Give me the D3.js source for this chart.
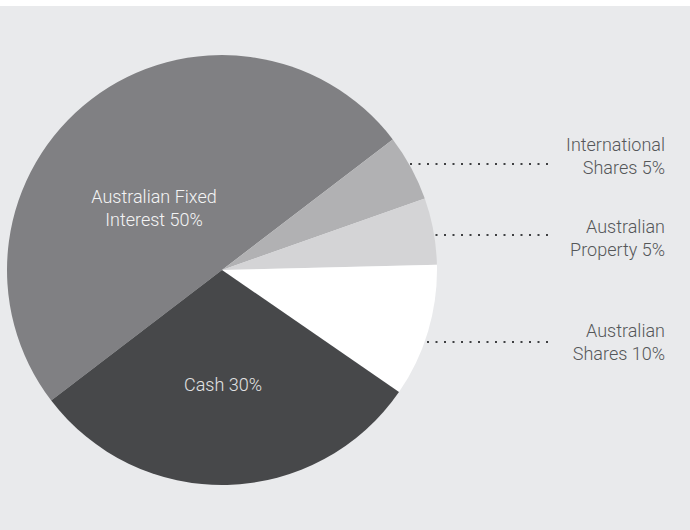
<!DOCTYPE html>
<html>
<head>
<meta charset="utf-8">
<script src="https://cdn.jsdelivr.net/npm/d3@7"></script>
<style>
  html, body { margin: 0; padding: 0; background: #ffffff; }
  svg { display: block; }
</style>
</head>
<body>
<div id="chart"></div>
<script>
// 资产配置数据
const categories = ['Australian Fixed Interest', 'International Shares', 'Australian Property', 'Australian Shares', 'Cash'];
const values = [50, 5, 5, 10, 30];
const labelLines = [
  ['Australian Fixed', 'Interest 50%'],
  ['International', 'Shares 5%'],
  ['Australian', 'Property 5%'],
  ['Australian', 'Shares 10%'],
  ['Cash 30%']
];
const colors = ['#808083', '#b1b1b3', '#d4d4d6', '#ffffff', '#47484a'];
// 饼图内部标签 / 外部标签
const insideLabel = [true, false, false, false, true];

const width = 690;
const height = 530;
const cx = 222, cy = 270, radius = 215;

const svg = d3.select('#chart')
  .append('svg')
  .attr('width', width)
  .attr('height', height);

// 背景
svg.append('rect')
  .attr('x', 0).attr('y', 6)
  .attr('width', width).attr('height', height - 6)
  .attr('fill', '#e9eaec');

const g = svg.append('g')
  .attr('transform', `translate(${cx},${cy})`);

// 起始角度:大扇区从左下到右上
const startAngle = -127.4 * Math.PI / 180;
const pie = d3.pie()
  .sort(null)
  .value(d => d)
  .startAngle(startAngle)
  .endAngle(startAngle + 2 * Math.PI);

const arcs = pie(values);
const arc = d3.arc().innerRadius(0).outerRadius(radius);

g.selectAll('path.slice')
  .data(arcs)
  .enter()
  .append('path')
  .attr('class', 'slice')
  .attr('d', arc)
  .attr('fill', (d, i) => colors[i]);

const fontSize = 18;

// 内部标签
const inPos = { 0: [-68, -62], 4: [1, 115] };
arcs.forEach((d, i) => {
  if (!insideLabel[i]) return;
  const [x, y] = inPos[i];
  const t = g.append('text')
    .attr('text-anchor', 'middle')
    .attr('font-family', 'Roboto, sans-serif')
    .attr('font-weight', 300)
    .attr('font-size', fontSize)
    .attr('fill', i === 4 ? '#e2e2e3' : '#f4f4f5');
  const lines = labelLines[i];
  lines.forEach((line, k) => {
    t.append('tspan')
      .attr('x', x)
      .attr('y', y + (k - (lines.length - 1) / 2) * 23 + 6)
      .text(line);
  });
});

// 外部标签和引导点线
const textX = 665;
const lineEnd = 548;
const outLabelY = { 1: 156, 2: 238, 3: 342 };
const leaderY = { 1: 164, 2: 235, 3: 342 };

arcs.forEach((d, i) => {
  if (insideLabel[i]) return;
  const ly = leaderY[i];
  // 引导线起点:扇区边缘
  const dy = ly - cy;
  const edgeX = cx + Math.sqrt(Math.max(0, radius * radius - dy * dy));
  svg.append('line')
    .attr('x1', lineEnd).attr('y1', ly)
    .attr('x2', edgeX).attr('y2', ly)
    .attr('stroke', '#3f4042')
    .attr('stroke-width', 2)
    .attr('stroke-dasharray', '2,6.5');

  const t = svg.append('text')
    .attr('text-anchor', 'end')
    .attr('font-family', 'Roboto, sans-serif')
    .attr('font-weight', 300)
    .attr('font-size', fontSize)
    .attr('fill', '#555759');
  const lines = labelLines[i];
  lines.forEach((line, k) => {
    t.append('tspan')
      .attr('x', textX)
      .attr('y', outLabelY[i] + (k - 0.5) * 23 + 6)
      .text(line);
  });
});
</script>
</body>
</html>
